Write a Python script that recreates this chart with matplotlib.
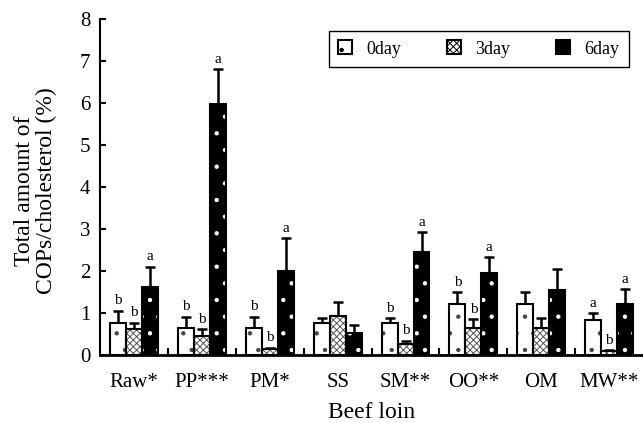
"""Total COPs/cholesterol in beef loin by cooking method and storage day."""

import matplotlib
matplotlib.use("Agg")
import matplotlib.pyplot as plt
import numpy as np
from matplotlib.patches import Patch

CATEGORIES = ["Raw*", "PP***", "PM*", "SS", "SM**", "OO**", "OM", "MW**"]
SERIES = ["0day", "3day", "6day"]

DAY0 = [0.75, 0.65, 0.65, 0.75, 0.75, 1.21, 1.21, 0.82]
DAY3 = [0.62, 0.45, 0.13, 0.93, 0.25, 0.63, 0.63, 0.10]
DAY6 = [1.61, 5.98, 2.01, 0.53, 2.45, 1.95, 1.55, 1.21]

ERR0 = [0.30, 0.26, 0.26, 0.13, 0.13, 0.28, 0.28, 0.17]
ERR3 = [0.15, 0.17, 0.04, 0.32, 0.09, 0.22, 0.26, 0.02]
ERR6 = [0.49, 0.82, 0.77, 0.18, 0.47, 0.37, 0.49, 0.35]

LETTERS0 = ["b", "b", "b", "", "b", "b", "", "a"]
LETTERS3 = ["b", "b", "b", "", "b", "b", "", "b"]
LETTERS6 = ["a", "a", "a", "", "a", "a", "", "a"]

plt.rcParams["font.family"] = ["Liberation Serif", "DejaVu Serif"]
plt.rcParams["hatch.linewidth"] = 0.7

# fill, hatch, hatch colour for each day
STYLES = [
    ("white", ".", "#444444"),
    ("white", "xxxxx", "#555555"),
    ("black", ".", "white"),
]


def main() -> None:
    fig = plt.figure(figsize=(6.43, 4.23), dpi=100)
    ax = fig.add_axes([0.156, 0.161, 0.844, 0.794])

    x = np.arange(len(CATEGORIES))
    width = 0.235
    values = [DAY0, DAY3, DAY6]
    errors = [ERR0, ERR3, ERR6]
    letters = [LETTERS0, LETTERS3, LETTERS6]

    for i, (vals, errs, lets) in enumerate(zip(values, errors, letters)):
        face, hatch, hcol = STYLES[i]
        pos = x + (i - 1) * width
        # hatched fill, then a plain outline on top
        ax.bar(pos, vals, width, color=face, hatch=hatch, edgecolor=hcol,
               linewidth=0, zorder=2)
        ax.bar(pos, vals, width, fill=False, edgecolor="black",
               linewidth=1.5, zorder=3)
        ax.errorbar(pos, vals, yerr=[np.zeros(len(vals)), errs], fmt="none",
                    ecolor="black", elinewidth=1.8, capsize=3.5,
                    capthick=1.8, zorder=1)
        for p, v, e, t in zip(pos, vals, errs, lets):
            if t:
                ax.text(p, v + e + 0.08, t, ha="center", va="bottom",
                        fontsize=11)

    ax.set_xlim(-0.5, len(CATEGORIES) - 0.5)
    ax.set_ylim(0, 8)
    ax.set_yticks(range(0, 9))
    ax.set_xticks(x)
    ax.set_xticklabels(CATEGORIES, fontsize=15)
    ax.set_xticks(x[:-1] + 0.5, minor=True)
    ax.tick_params(axis="x", which="major", length=0, pad=13)
    ax.tick_params(axis="x", which="minor", direction="in", length=5,
                   width=1.5)
    ax.tick_params(axis="y", direction="in", length=4, width=1.5,
                   labelsize=15, pad=7)

    for side in ("top", "right"):
        ax.spines[side].set_visible(False)
    ax.spines["left"].set_linewidth(1.5)
    ax.spines["bottom"].set_linewidth(2)

    ax.set_ylabel("Total amount of\nCOPs/cholesterol (%)", fontsize=17,
                  linespacing=1.1)
    ax.yaxis.set_label_coords(-0.079, 0.49)
    ax.set_xlabel("Beef loin", fontsize=17, va="top")
    ax.xaxis.set_label_coords(0.5, -0.14)

    handles = [Patch(facecolor=s[0], edgecolor="black", hatch=s[1],
                     linewidth=1.5) for s in STYLES]
    handles[2] = Patch(facecolor="black", edgecolor="black", linewidth=1.5)
    leg = ax.legend(handles, SERIES, ncol=3, fontsize=13,
                    loc="upper right", bbox_to_anchor=(0.99, 0.99),
                    fancybox=False, framealpha=1, edgecolor="black",
                    handlelength=0.8, handleheight=0.8, columnspacing=2.5,
                    handletextpad=0.8, borderpad=0.5)
    leg.get_frame().set_linewidth(1)

    fig.savefig("out.png", dpi=100)


if __name__ == "__main__":
    main()
